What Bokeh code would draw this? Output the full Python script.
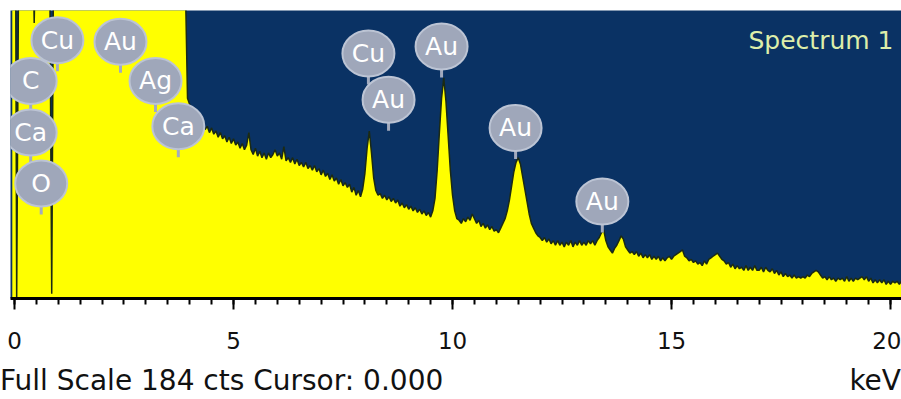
from bokeh.plotting import figure
from bokeh.models import Label, SingleIntervalTicker, Range1d, Div
from bokeh.layouts import column
from bokeh.core.properties import value
from bokeh.embed import file_html
from bokeh.resources import INLINE
import numpy as np

# ---- data -----------------------------------------------------------------
energy_start = -0.05     # keV of first channel
channel_width = 0.05     # keV per channel
full_scale = 184         # cts

counts = [
    460,
    # 0.00 - 0.95
    460, 0, 240, 262, 298, 352, 318, 285, 256, 176, 247, 318, 296, 271, 258, 249, 236, 3, 262, 318,
    # 1.00 - 1.95
    335, 318, 296, 284, 279, 281, 287, 293, 305, 311, 318, 322, 331, 345, 352, 368, 386, 412, 455, 520,
    # 2.00 - 2.95
    610, 705, 768, 742, 655, 560, 488, 432, 405, 386, 372, 361, 352, 344, 335, 326, 318, 311, 305, 309,
    # 3.00 - 3.95
    302, 296, 288, 281, 276, 270, 264, 259, 253, 248, 244, 239, 236, 241, 247, 236, 224, 213, 203, 128,
    # 4.00 - 4.95
    124, 120, 116, 113, 112, 109, 111, 108, 110, 106, 109, 105, 107, 103, 106, 102, 104, 100, 103, 99,
    # 5.00 - 5.95
    102, 98, 100, 96, 99, 95, 98, 106, 95, 92, 96, 91, 94, 90, 93, 89, 93, 90, 92, 95,
    # 6.00 - 6.95
    91, 93, 89, 97, 88, 90, 87, 90, 86, 89, 85, 87, 84, 87, 83, 85, 82, 85, 81, 83,
    # 7.00 - 7.95
    79, 82, 78, 80, 76, 79, 75, 77, 73, 76, 72, 74, 71, 73, 68, 71, 66, 69, 65, 70,
    # 8.00 - 8.95
    80, 96, 107, 93, 77, 69, 66, 67, 64, 66, 63, 65, 62, 64, 61, 63, 59, 61, 58, 60,
    # 9.00 - 9.95
    57, 59, 56, 58, 55, 57, 54, 56, 53, 55, 52, 56, 64, 82, 106, 128, 141, 126, 104, 82,
    # 10.00 - 10.95
    66, 56, 51, 50, 48, 51, 49, 52, 50, 54, 51, 48, 50, 46, 48, 45, 47, 44, 46, 43,
    # 11.00 - 11.95
    44, 42, 45, 48, 51, 56, 63, 72, 81, 87, 90, 86, 78, 70, 62, 54, 48, 45, 42, 40,
    # 12.00 - 12.95
    39, 37, 39, 36, 38, 35, 37, 34, 37, 34, 36, 33, 36, 34, 37, 33, 36, 34, 37, 34,
    # 13.00 - 13.95
    36, 34, 37, 35, 37, 34, 37, 39, 42, 44, 37, 33, 31, 29, 32, 34, 37, 40, 38, 33,
    # 14.00 - 14.95
    31, 29, 30, 28, 30, 27, 29, 26, 28, 26, 28, 25, 27, 25, 27, 24, 26, 24, 26, 27,
    # 15.00 - 15.95
    25, 27, 28, 29, 30, 31, 27, 26, 24, 25, 23, 24, 22, 23, 21, 24, 22, 25, 26, 27,
    # 16.00 - 16.95
    28, 29, 27, 25, 24, 22, 23, 20, 22, 19, 21, 19, 20, 18, 21, 18, 20, 18, 21, 18,
    # 17.00 - 17.95
    18, 20, 17, 20, 18, 17, 19, 16, 18, 15, 17, 14, 16, 14, 15, 13, 15, 13, 14, 13,
    # 18.00 - 18.95
    14, 13, 15, 14, 16, 17, 18, 17, 15, 13, 14, 12, 14, 12, 13, 11, 13, 12, 13, 11,
    # 19.00 - 19.95
    14, 11, 13, 11, 13, 12, 13, 14, 12, 14, 11, 13, 10, 12, 10, 12, 10, 12, 9, 11,
    # 20.00 - 20.25
    9, 11, 10, 11, 9, 11,
]

label_text = ["Cu", "Au", "C", "Ag", "Ca", "Ca", "O", "Cu", "Au", "Au", "Au", "Au"]
label_kev = [0.98, 2.42, 0.37, 3.22, 0.37, 3.74, 0.61, 8.08, 9.75, 8.54, 11.44, 13.42]
label_cts = [165, 164, 139, 139, 106, 110, 73.5, 156.5, 161, 127, 109, 62]

x_tick_interval = 5
x_minor_per_major = 10
spectrum_name = "Spectrum 1"
footer_text = "Full Scale 184 cts Cursor: 0.000"
unit_text = "keV"

# ---- figure -----------------------------------------------------------------
W = 901
FIG_H = 360
FRAME_TOP = 10
FRAME_H = 288
DIV_H = 39
FONT = "DejaVu Sans"

p = figure(width=W, height=FIG_H,
           x_range=Range1d(-0.091, 20.25), y_range=Range1d(0, full_scale),
           output_backend="svg", toolbar_location=None, y_axis_location=None,
           min_border_left=10, min_border_right=0, min_border_top=FRAME_TOP,
           min_border_bottom=FIG_H - FRAME_TOP - FRAME_H)
p.background_fill_color = "#0A3264"
p.border_fill_color = "white"
p.outline_line_color = None
p.grid.visible = False

ax = p.xaxis[0]
ax.ticker = SingleIntervalTicker(interval=x_tick_interval, num_minor_ticks=x_minor_per_major)
ax.axis_line_width = 3
ax.axis_line_color = "#000000"
ax.major_tick_line_width = 2
ax.minor_tick_line_width = 2
ax.major_tick_line_color = "#000000"
ax.minor_tick_line_color = "#000000"
ax.major_tick_in = 0
ax.minor_tick_in = 0
ax.major_tick_out = 11
ax.minor_tick_out = 6
ax.major_label_standoff = 22
ax.major_label_text_font = FONT
ax.major_label_text_font_size = "23px"
ax.major_label_text_color = "#111111"

E = energy_start + channel_width * np.arange(len(counts))
p.varea(x=E, y1=0, y2=counts, fill_color="#FFFF00")
p.line(E, counts, line_color="#1B2A14", line_width=1.5)

# element markers
cpp = full_scale / FRAME_H  # counts per pixel
stem_top = [c - 21 * cpp for c in label_cts]
stem_bot = [c - 31 * cpp for c in label_cts]
p.segment(x0=label_kev, y0=stem_top, x1=label_kev, y1=stem_bot,
          line_color="#A3ABBE", line_width=3)
p.ellipse(x=label_kev, y=label_cts, width=52, height=46,
          width_units="screen", height_units="screen",
          fill_color="#9FA7BA", line_color="#BCC4D4", line_width=2)
p.text(x=label_kev, y=label_cts, text=label_text, text_align="center",
       text_baseline="middle", text_font=value(FONT), text_font_size="25px",
       text_color="white")

p.add_layout(Label(x=883, y=258, x_units="screen", y_units="screen",
                   text=spectrum_name, text_align="right", text_baseline="alphabetic",
                   text_font=FONT, text_font_size="25px", text_color="#DDEEAA"))

footer = Div(
    text=(
        "<div style=\"display:flex;justify-content:space-between;width:901px;"
        "font-family:'DejaVu Sans';font-size:28px;color:#111111;line-height:32px;"
        "padding-top:5px;\">"
        f"<span>{footer_text}</span><span>{unit_text}</span></div>"
    ),
    width=W, height=DIV_H, margin=(0, 0, 0, 0),
)

layout = column(p, footer, spacing=0)
open("out.html", "w").write(file_html(layout, INLINE))
